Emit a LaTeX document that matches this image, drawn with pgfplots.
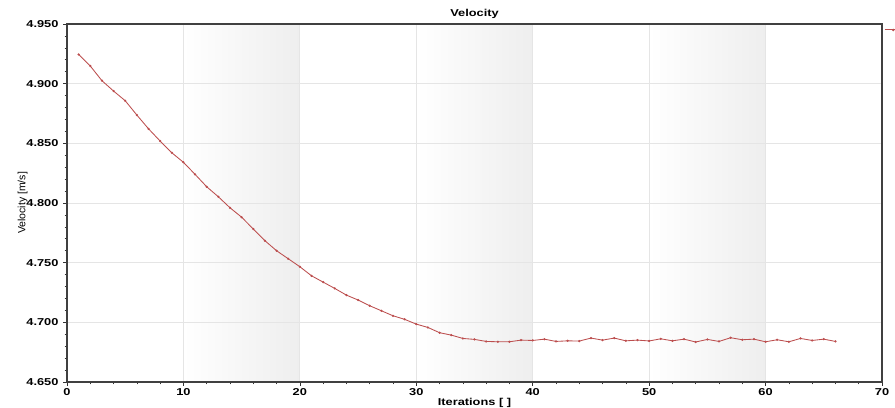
\documentclass[border=0pt]{standalone}
\usepackage{fontspec}
\setmainfont{Liberation Sans}
\newfontfamily\bw[FakeStretch=1.28]{Liberation Sans Bold}
\usepackage{pgfplots}
\pgfplotsset{compat=1.18}
\definecolor{velred}{RGB}{188,78,78}
\definecolor{bandgray}{RGB}{238,238,238}
\begin{document}
\begin{tikzpicture}
\begin{axis}[
  set layers=standard,
  scale only axis,
  width=815pt, height=358pt,
  xmin=0, xmax=70, ymin=4.65, ymax=4.95,
  xtick={0,10,...,70},
  ytick={4.65,4.70,...,4.951},
  minor x tick num=4, minor y tick num=4,
  tick align=outside,
  major tick length=4pt, minor tick length=2.5pt,
  tick style={black!80, line width=0.6pt},
  xtick pos=bottom, ytick pos=left,
  grid=major,
  major grid style={gray!20, line width=0.8pt},
  axis line style={black!75, line width=1.1pt},
  /pgf/number format/assume math mode=true,
  yticklabel style={/pgf/number format/fixed, /pgf/number format/precision=3, /pgf/number format/fixed zerofill, font=\bw\fontsize{10}{12}\selectfont, xshift=-1pt},
  xticklabel style={font=\bw\fontsize{10}{12}\selectfont, yshift=1pt},
  scaled y ticks=false,
  title={\bw\fontsize{10}{12}\selectfont Velocity},
  title style={yshift=-4pt},
  xlabel={\bw\fontsize{10}{12}\selectfont Iterations [ ]},
  xlabel style={yshift=4pt},
  ylabel={\fontsize{10.5}{12}\selectfont Velocity [m/s]},
  ylabel style={yshift=-8pt},
  legend style={at={(1,1)}, anchor=north west, xshift=2pt, yshift=-3pt, draw=none, fill=none, inner sep=0pt},
  legend image post style={line width=1pt},
]
\begin{pgfonlayer}{axis background}
\fill[left color=white, right color=bandgray] (axis cs:10,4.65) rectangle (axis cs:20,4.95);
\fill[left color=white, right color=bandgray] (axis cs:30,4.65) rectangle (axis cs:40,4.95);
\fill[left color=white, right color=bandgray] (axis cs:50,4.65) rectangle (axis cs:60,4.95);
\end{pgfonlayer}
\addplot[velred, line width=0.85pt, mark=*, mark size=0.65pt] coordinates {
(1,4.9245) (2,4.9148) (3,4.9025) (4,4.8938) (5,4.8857) (6,4.8737) (7,4.8622)
(8,4.8519) (9,4.8421) (10,4.8341) (11,4.8240) (12,4.8136) (13,4.8052) (14,4.7960)
(15,4.7881) (16,4.7782) (17,4.7684) (18,4.7600) (19,4.7533) (20,4.7466)
(21,4.7390) (22,4.7337) (23,4.7284) (24,4.7228) (25,4.7187) (26,4.7139)
(27,4.7097) (28,4.7055) (29,4.7025) (30,4.6985) (31,4.6957) (32,4.6913)
(33,4.6893) (34,4.6865) (35,4.6857) (36,4.6840) (37,4.6837) (38,4.6837)
(39,4.6851) (40,4.6848) (41,4.6859) (42,4.6840) (43,4.6845) (44,4.6843)
(45,4.6868) (46,4.6851) (47,4.6868) (48,4.6845) (49,4.6851) (50,4.6844)
(51,4.6862) (52,4.6845) (53,4.6859) (54,4.6835) (55,4.6857) (56,4.6840)
(57,4.6871) (58,4.6854) (59,4.6859) (60,4.6837) (61,4.6854) (62,4.6837)
(63,4.6865) (64,4.6848) (65,4.6859) (66,4.6840)
};
\addlegendentry{}
\end{axis}
\pgfresetboundingbox
\path (current axis.south west) ++(-67pt,-26pt) coordinate (bbA);
\path (current axis.north east) ++(13pt,24pt) coordinate (bbB);
\useasboundingbox (bbA) rectangle (bbB);
\end{tikzpicture}
\end{document}
